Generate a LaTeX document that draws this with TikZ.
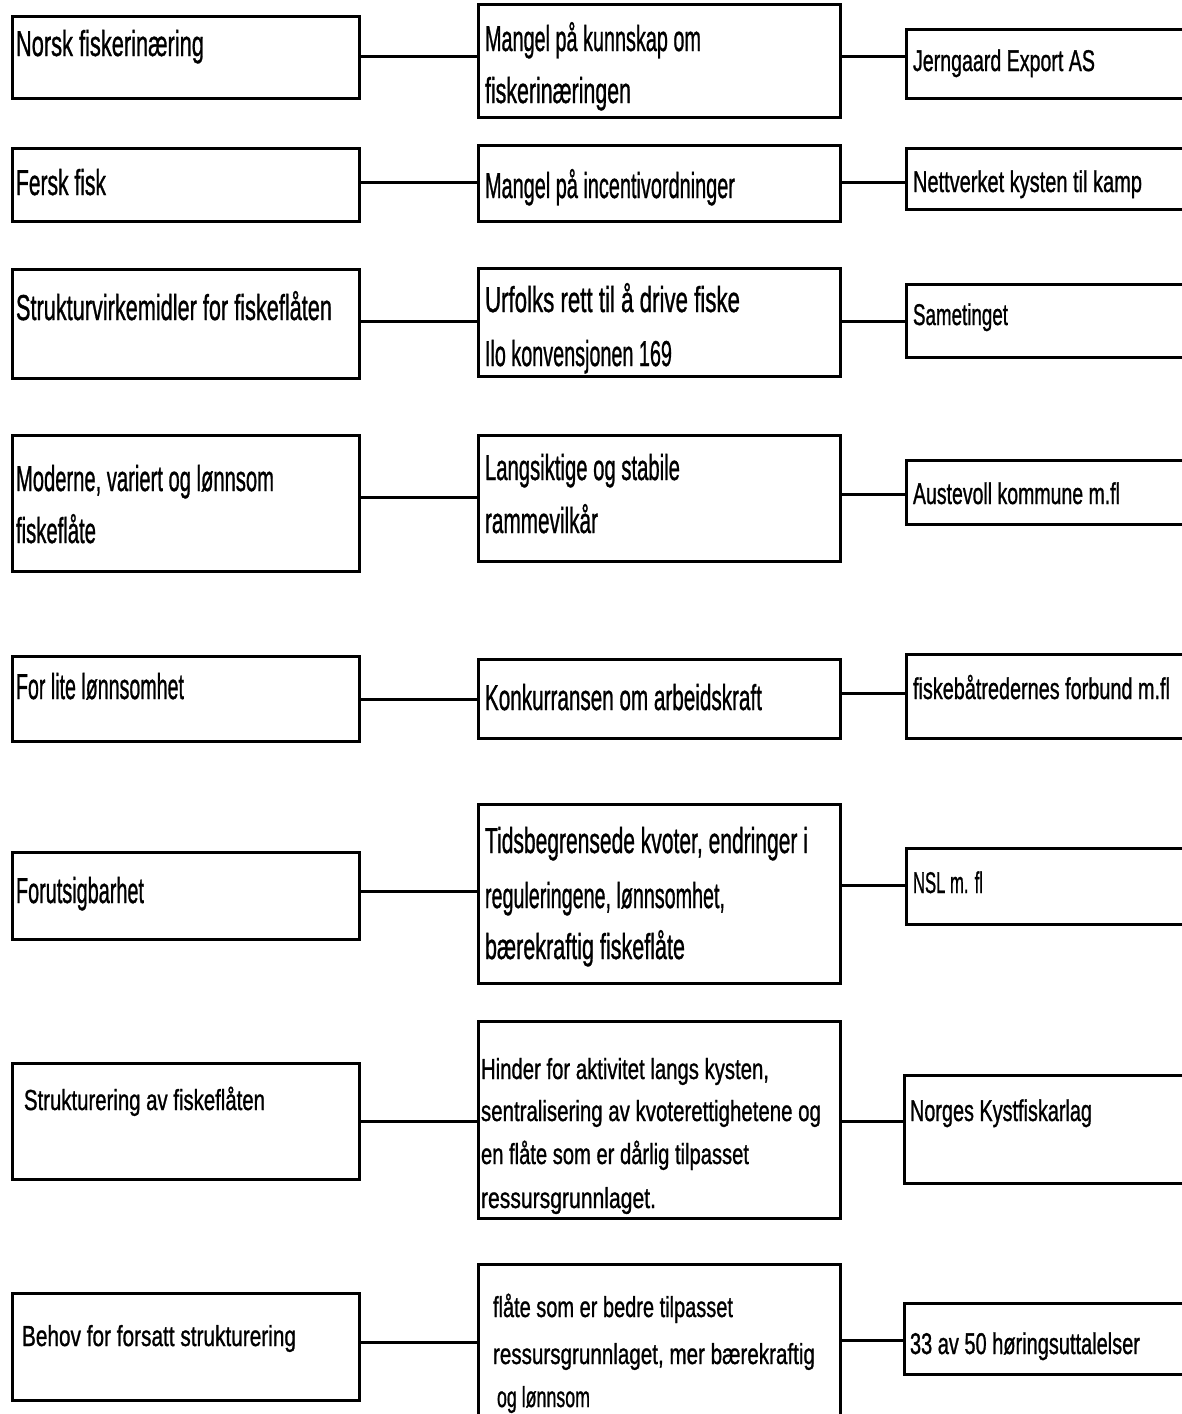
\documentclass[tikz,border=0pt]{standalone}
\usepackage{fontspec}
\setmainfont{Liberation Sans}[FakeBold=1.2]
\usepackage{graphicx}
\newcommand{\tline}[2]{\resizebox{#1pt}{\height}{#2}}
\begin{document}
\begin{tikzpicture}[x=1pt,y=-1pt,
  box/.style={draw, line width=3pt, rectangle, inner sep=0pt, anchor=north west},
  lbox/.style={box, minimum width=347pt},
  mbox/.style={box, minimum width=362pt},
  rbox/.style={box, minimum width=300pt},
  conn/.style={line width=3pt},
  txt/.style={anchor=base west, inner sep=0pt, outer sep=0pt},
  big/.style={txt, font=\fontsize{36}{36}\selectfont},
  med/.style={txt, font=\fontsize{30}{30}\selectfont},
  sml/.style={txt, font=\fontsize{29}{29}\selectfont}]
\useasboundingbox (0,0) rectangle (1182,1414);
\clip (0,0) rectangle (1182,1414);
\fill[white] (0,0) rectangle (1182,1414);

% left column
\node[lbox, minimum height=82pt]  (L1) at (11,15) {};
\node[lbox, minimum height=73pt]  (L2) at (11,147) {};
\node[lbox, minimum height=109pt] (L3) at (11,268) {};
\node[lbox, minimum height=136pt] (L4) at (11,434) {};
\node[lbox, minimum height=85pt]  (L5) at (11,655) {};
\node[lbox, minimum height=87pt]  (L6) at (11,851) {};
\node[lbox, minimum height=116pt] (L7) at (11,1062) {};
\node[lbox, minimum height=107pt] (L8) at (11,1292) {};
% middle column
\node[mbox, minimum height=113pt] (M1) at (477,3) {};
\node[mbox, minimum height=76pt]  (M2) at (477,144) {};
\node[mbox, minimum height=108pt] (M3) at (477,267) {};
\node[mbox, minimum height=126pt] (M4) at (477,434) {};
\node[mbox, minimum height=79pt]  (M5) at (477,658) {};
\node[mbox, minimum height=179pt] (M6) at (477,803) {};
\node[mbox, minimum height=197pt] (M7) at (477,1020) {};
\node[mbox, minimum height=180pt] (M8) at (477,1263) {};
% right column
\node[rbox, minimum height=69pt]  (R1) at (905,28) {};
\node[rbox, minimum height=61pt]  (R2) at (905,147) {};
\node[rbox, minimum height=73pt]  (R3) at (905,283) {};
\node[rbox, minimum height=64pt]  (R4) at (905,459) {};
\node[rbox, minimum height=84pt]  (R5) at (905,653) {};
\node[rbox, minimum height=76pt]  (R6) at (905,847) {};
\node[rbox, minimum height=108pt] (R7) at (903,1074) {};
\node[rbox, minimum height=71pt]  (R8) at (903,1302) {};

% connector levels
\coordinate (a1) at (0,56);   \coordinate (b1) at (0,56);
\coordinate (a2) at (0,182);  \coordinate (b2) at (0,182);
\coordinate (a3) at (0,321);  \coordinate (b3) at (0,321);
\coordinate (a4) at (0,497);  \coordinate (b4) at (0,494);
\coordinate (a5) at (0,699);  \coordinate (b5) at (0,693);
\coordinate (a6) at (0,891);  \coordinate (b6) at (0,885);
\coordinate (a7) at (0,1121); \coordinate (b7) at (0,1121);
\coordinate (a8) at (0,1342); \coordinate (b8) at (0,1340);
\foreach \i in {1,...,8}{
  \draw[conn] (L\i.east |- a\i) -- (M\i.west |- a\i);
  \draw[conn] (M\i.east |- b\i) -- (R\i.west |- b\i);
}

% texts row 1
\node[big] (tL1) at (16,56) {\tline{188}{Norsk fiskerinæring}};
\node[big] (tM1a) at (485,51) {\tline{216}{Mangel på kunnskap om}};
\node[big] (tM1b) at (485,103) {\tline{146}{fiskerinæringen}};
\node[med] (tR1) at (913,71) {\tline{182}{Jerngaard Export AS}};
% row 2
\node[big] (tL2) at (16,195) {\tline{90}{Fersk fisk}};
\node[big] (tM2) at (485,198) {\tline{250}{Mangel på incentivordninger}};
\node[med] (tR2) at (913,192) {\tline{229}{Nettverket kysten til kamp}};
% row 3
\node[big] (tL3) at (16,320) {\tline{316}{Strukturvirkemidler for fiskeflåten}};
\node[big] (tM3a) at (485,312) {\tline{255}{Urfolks rett til å drive fiske}};
\node[big] (tM3b) at (485,366) {\tline{187}{Ilo konvensjonen 169}};
\node[med] (tR3) at (913,325) {\tline{95}{Sametinget}};
% row 4
\node[big] (tL4a) at (16,491) {\tline{258}{Moderne, variert og lønnsom}};
\node[big] (tL4b) at (16,543) {\tline{80}{fiskeflåte}};
\node[big] (tM4a) at (485,480) {\tline{195}{Langsiktige og stabile}};
\node[big] (tM4b) at (485,533) {\tline{113}{rammevilkår}};
\node[med] (tR4) at (913,504) {\tline{207}{Austevoll kommune m.fl}};
% row 5
\node[big] (tL5) at (16,699) {\tline{168}{For lite lønnsomhet}};
\node[big] (tM5) at (485,710) {\tline{277}{Konkurransen om arbeidskraft}};
\node[med] (tR5) at (913,699) {\tline{257}{fiskebåtredernes forbund m.fl}};
% row 6
\node[big] (tL6) at (16,903) {\tline{128}{Forutsigbarhet}};
\node[big] (tM6a) at (485,853) {\tline{323}{Tidsbegrensede kvoter, endringer i}};
\node[big] (tM6b) at (485,908) {\tline{240}{reguleringene, lønnsomhet,}};
\node[big] (tM6c) at (485,959) {\tline{200}{bærekraftig fiskeflåte}};
\node[med] (tR6) at (913,893) {\tline{70}{NSL m. fl}};
% row 7
\node[sml] (tL7) at (24,1110) {\tline{241}{Strukturering av fiskeflåten}};
\node[sml] (tM7a) at (481,1079) {\tline{288}{Hinder for aktivitet langs kysten,}};
\node[sml] (tM7b) at (481,1121) {\tline{340}{sentralisering av kvoterettighetene og}};
\node[sml] (tM7c) at (481,1164) {\tline{268}{en flåte som er dårlig tilpasset}};
\node[sml] (tM7d) at (481,1208) {\tline{175}{ressursgrunnlaget.}};
\node[med] (tR7) at (910,1121) {\tline{182}{Norges Kystfiskarlag}};
% row 8
\node[sml] (tL8) at (22,1346) {\tline{274}{Behov for forsatt strukturering}};
\node[sml] (tM8a) at (493,1317) {\tline{240}{flåte som er bedre tilpasset}};
\node[sml] (tM8b) at (493,1364) {\tline{322}{ressursgrunnlaget, mer bærekraftig}};
\node[sml] (tM8c) at (497,1407) {\tline{93}{og lønnsom}};
\node[med] (tR8) at (910,1354) {\tline{230}{33 av 50 høringsuttalelser}};
\end{tikzpicture}
\end{document}
